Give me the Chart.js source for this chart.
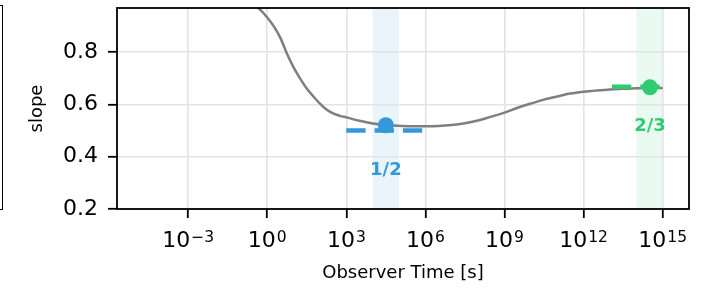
<!DOCTYPE html>
<html>
<head>
<meta charset="utf-8">
<script src="https://cdn.jsdelivr.net/npm/chart.js@4.4.0/dist/chart.umd.min.js"></script>
<style>
  html, body { margin: 0; padding: 0; background: #fff; }
  .wrap { position: relative; width: 702px; height: 289px; overflow: hidden; }
  /* edge of the neighbouring panel, cut off by the crop */
  .prev-panel { position: absolute; left: -20px; top: 5.2px; width: 23px; height: 205px; box-sizing: border-box; border: 1.8px solid #000; }
</style>
</head>
<body>
<div class="wrap">
  <div class="prev-panel"></div>
  <canvas id="chart"></canvas>
</div>
<script>
// gray curve: slope vs observer time
const curveTime = [1e-1, 3.16e-1, 5.62e-1, 1, 1.78, 3.16, 5.62, 10, 17.8, 31.6, 56.2, 100, 178, 316, 562, 1e3, 3.16e3, 1e4, 3.16e4, 1e5, 3.16e5, 1e6, 3.16e6, 1e7, 3.16e7, 1e8, 3.16e8, 1e9, 3.16e9, 1e10, 3.16e10, 1e11, 3.16e11, 1e12, 3.16e12, 1e13, 3.16e13, 1e14, 3.16e14, 1e15]
const curveSlope = [1.025, 0.982, 0.96, 0.932, 0.898, 0.854, 0.793, 0.741, 0.698, 0.66, 0.63, 0.603, 0.58, 0.565, 0.556, 0.55, 0.537, 0.527, 0.521, 0.518, 0.516, 0.516, 0.517, 0.521, 0.528, 0.538, 0.553, 0.568, 0.587, 0.603, 0.618, 0.63, 0.641, 0.648, 0.653, 0.657, 0.659, 0.661, 0.662, 0.662]

// axis ticks
const xTickValues = [1e-3, 1, 1e3, 1e6, 1e9, 1e12, 1e15]
const xTickExp = ['\u22123', '0', '3', '6', '9', '12', '15']
const yTickValues = [0.2, 0.4, 0.6, 0.8]

// the two regimes
const regimeNames = ['1/2', '2/3']
const regimeBands = [[1e4, 1e5], [1e14, 1e15]]
const regimeDots = [[3.16e4, 0.52], [3.3e14, 0.665]]
const regimeRefs = [[1e3, 1e6, 0.5], [1.2e13, 1e15, 0.6667]]
const regimeLabelAt = [[3.16e4, 0.349], [3.3e14, 0.516]]

const regimeColors = ['#3498db', '#2ecc71']
const bandColors = ['rgba(52, 152, 219, 0.1)', 'rgba(46, 204, 113, 0.1)']
const FONT = '"DejaVu Sans", sans-serif'

Chart.defaults.font.family = FONT
Chart.defaults.color = '#000'

const regimePlugin = {
  id: 'regimes',
  beforeDraw(chart) {
    const { ctx, chartArea, scales } = chart
    ctx.save()
    regimeBands.forEach((b, i) => {
      const x0 = scales.x.getPixelForValue(b[0])
      const x1 = scales.x.getPixelForValue(b[1])
      ctx.fillStyle = bandColors[i]
      ctx.fillRect(x0, chartArea.top, x1 - x0, chartArea.bottom - chartArea.top)
    })
    ctx.restore()
  },
  afterDatasetsDraw(chart) {
    const { ctx, scales } = chart
    ctx.save()
    ctx.font = 'bold 18px ' + FONT
    ctx.textAlign = 'center'
    ctx.textBaseline = 'middle'
    regimeLabelAt.forEach((p, i) => {
      ctx.fillStyle = regimeColors[i]
      ctx.fillText(regimeNames[i], scales.x.getPixelForValue(p[0]), scales.y.getPixelForValue(p[1]))
    })
    ctx.restore()
  },
  afterDraw(chart) {
    const { ctx, chartArea, scales } = chart
    ctx.save()
    // frame
    ctx.strokeStyle = '#000'
    ctx.lineWidth = 1.8
    ctx.strokeRect(chartArea.left, chartArea.top, chartArea.right - chartArea.left, chartArea.bottom - chartArea.top)
    // x tick labels as 10 with a raised exponent
    ctx.fillStyle = '#000'
    ctx.textAlign = 'left'
    ctx.textBaseline = 'alphabetic'
    const baseY = chartArea.bottom + 38.3
    xTickValues.forEach((v, i) => {
      ctx.font = '22px ' + FONT
      const wBase = ctx.measureText('10').width
      ctx.font = '15.5px ' + FONT
      const wExp = ctx.measureText(xTickExp[i]).width
      const x0 = scales.x.getPixelForValue(v) - (wBase + 1 + wExp) / 2
      ctx.font = '22px ' + FONT
      ctx.fillText('10', x0, baseY)
      ctx.font = '15.5px ' + FONT
      ctx.fillText(xTickExp[i], x0 + wBase + 1, baseY - 5.8)
    })
    ctx.restore()
  },
}

const gridOpts = { color: '#e3e3e3', lineWidth: 1.6, tickColor: '#000', tickWidth: 1.8, tickLength: 9 }

const noPadding = (s) => {
  s.paddingTop = 0
  s.paddingBottom = 0
  s.paddingLeft = 0
  s.paddingRight = 0
}

const datasets = [
  ...regimeDots.map((d, i) => ({
    data: [{ x: d[0], y: d[1] }],
    showLine: false,
    pointRadius: 8,
    pointBorderWidth: 0,
    pointBackgroundColor: regimeColors[i],
    order: 0,
  })),
  ...regimeRefs.map((r, i) => ({
    data: [{ x: r[0], y: r[2] }, { x: r[1], y: r[2] }],
    showLine: true,
    borderColor: regimeColors[i],
    borderWidth: 4.5,
    borderDash: [19.3, 9],
    pointRadius: 0,
    order: 1,
  })),
  {
    data: curveTime.map((t, i) => ({ x: t, y: curveSlope[i] })),
    showLine: true,
    borderColor: '#7f7f7f',
    borderWidth: 2.5,
    pointRadius: 0,
    cubicInterpolationMode: 'monotone',
    order: 2,
  },
]

new Chart(document.getElementById('chart'), {
  type: 'scatter',
  data: { datasets },
  options: {
    responsive: true,
    maintainAspectRatio: false,
    animation: false,
    events: [],
    layout: { padding: { top: 6, right: 13, bottom: 0, left: 0 } },
    plugins: { legend: { display: false }, tooltip: { enabled: false } },
    scales: {
      x: {
        type: 'logarithmic',
        min: 2e-6,
        max: 1e16,
        afterBuildTicks: (s) => { s.ticks = xTickValues.map((v) => ({ value: v, major: true })) },
        afterFit: (s) => { s.height = 80; noPadding(s) },
        grid: gridOpts,
        border: { display: false },
        ticks: { callback: () => '', autoSkip: false, maxRotation: 0 },
        title: { display: true, text: 'Observer Time [s]', font: { size: 18 }, color: '#000', padding: { top: 0, bottom: 4.4 } },
      },
      y: {
        min: 0.2,
        max: 0.968,
        afterBuildTicks: (s) => { s.ticks = yTickValues.map((v) => ({ value: v })) },
        afterFit: (s) => { s.width = 117; noPadding(s) },
        grid: gridOpts,
        border: { display: false },
        ticks: { font: { size: 22 }, color: '#000', padding: 10, callback: (v) => Number(v).toFixed(1) },
        title: { display: true, text: 'slope', font: { size: 18 }, color: '#000', padding: { top: 27, bottom: 0 } },
      },
    },
  },
  plugins: [regimePlugin],
})
</script>
</body>
</html>
